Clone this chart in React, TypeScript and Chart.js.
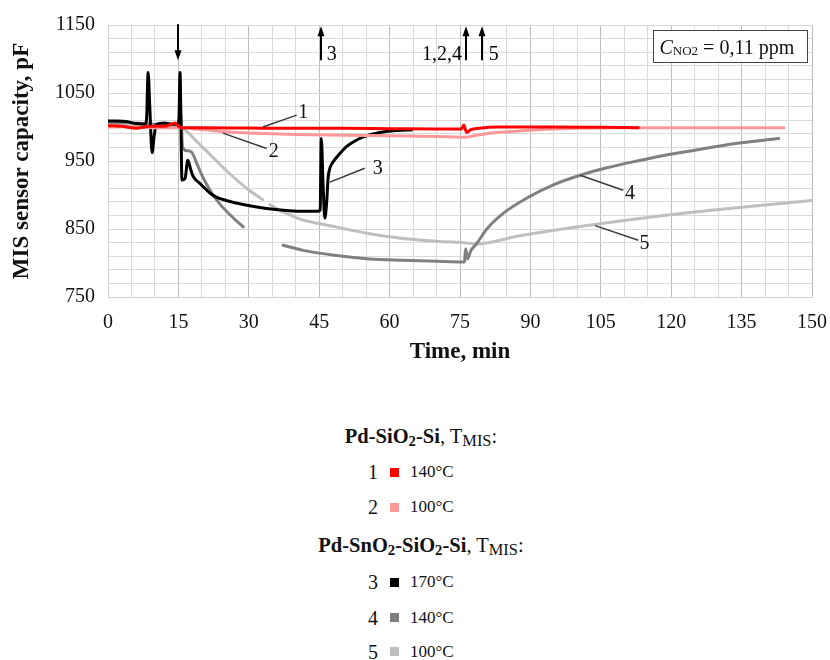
import React, { useEffect, useRef } from 'react';
import { Chart, registerables } from 'chart.js';
Chart.register(...registerables);

const FONT = '"Liberation Serif", "Times New Roman", serif';

// Series 1: Pd-SiO2-Si, 140°C
const s1T = [0, 3, 6, 9, 12, 14.3, 15.2, 16, 20, 30, 40, 50, 60, 70, 75.3, 75.8, 76.4, 77.3, 79, 83, 95, 105, 113];
const s1C = [1002, 1001, 998, 1001, 1001, 1006, 1000, 999, 999, 998.5, 998, 998, 997.5, 997, 997, 1003, 992, 996, 998, 1000, 1000, 999.5, 999];
// Series 2: Pd-SiO2-Si, 100°C
const s2T = [0, 5, 10, 15, 16.5, 18, 22, 25, 30, 35, 40, 50, 60, 70, 76, 78, 81, 85, 90, 95, 100, 110, 120, 130, 144];
const s2C = [1000, 1000, 999, 999, 999, 997.5, 995, 993, 991, 990, 989, 988, 987, 986, 985, 987, 990.5, 993, 995.4, 997, 998, 998.8, 999, 999, 999];
// Series 3: Pd-SnO2-SiO2-Si, 170°C
const s3T = [0, 2, 4, 6, 7.8, 8.2, 8.55, 8.9, 9.4, 9.8, 10.3, 12, 14, 14.8, 15.1, 15.35, 15.5, 15.75, 16.4, 17.0, 17.6, 18.1, 19.6, 21.7, 23.1, 25.2, 28.8, 33.8, 39.4, 44.8, 45.2, 45.45, 45.8, 46.2, 46.6, 46.9, 47.3, 48, 49.4, 50.8, 52.5, 54.4, 57.9, 61.5, 64.7];
const s3C = [1009, 1009, 1008, 1005, 1004, 1010, 1080, 1030, 962, 985, 1004, 1006, 1004, 1005, 1010, 1080, 1030, 922, 924, 951, 938, 928, 917, 903, 897, 892, 886, 880, 876.5, 876, 878, 983, 920, 866, 890, 925, 940, 949, 961, 971, 979, 985.5, 992, 995, 995.5];
// Series 4: Pd-SnO2-SiO2-Si, 140°C
const s4T = [0, 4, 8, 10, 12, 15, 15.35, 15.55, 15.9, 16.8, 17.8, 19, 20.3, 22, 23.8, 26, 28.8, 33, 37.3, 41.6, 48.7, 55.8, 62.9, 70, 75.7, 75.95, 76.2, 76.6, 77.3, 78.5, 80.7, 84.2, 89.9, 94.9, 100.6, 106.3, 112.7, 119.8, 126, 133.3, 142.9];
const s4C = [1007, 1006, 1005, 1004, 1003, 1002, 1020, 1015, 970, 965, 963, 945, 925, 904, 887, 871, 853, null, 826, 818.6, 811, 806, 804, 802.4, 801.4, 802, 821, 806, 818, 828, 850, 873, 898, 915, 929, 940, 950, 960, 967, 975.5, 983];
// Series 5: Pd-SnO2-SiO2-Si, 100°C
const s5T = [0, 5, 10, 15, 15.6, 17, 19, 21.7, 25.2, 29.5, 33, 33.7, 34.5, 37, 39.4, 41.6, 45, 48.7, 52, 55.8, 62.9, 70, 77.1, 78.5, 87.8, 102, 119.8, 135, 150];
const s5C = [1002, 1001, 1000, 999, 999, 992, 978, 960, 936, 910, 893, null, 886, 876, 869, 863, 858, 853, 848, 843, 836, 832, 829, 828, 840, 855, 871, 882, 892];

const seriesT = [s1T, s2T, s3T, s4T, s5T];
const seriesC = [s1C, s2C, s3C, s4C, s5C];
const seriesNum = ['1', '2', '3', '4', '5'];
const seriesTemp = ['140°C', '100°C', '170°C', '140°C', '100°C'];
const seriesColor = ['#ff0000', '#ff9999', '#000000', '#808080', '#bfbfbf'];

// axis
const xMin = 0, xMax = 150, xStep = 5, xLabelEvery = 15;
const yMin = 750, yMax = 1150, yStep = 20, yLabelEvery = 100;

// annotations (data coordinates)
const arrowT = [15, 45.4, 76.2, 79.7];
const arrowUp = [false, true, true, true];
const arrowLabel = ['', '3', '1,2,4', '5'];
const arrowLabelT = [0, 46.6, 75.4, 81.1];
const arrowLabelAlign = ['left', 'left', 'right', 'left'];
const leaderFrom = [[33, 1000], [24.5, 991], [47.3, 919], [100.6, 929], [103.8, 855]];
const leaderTo = [[40.2, 1017.5], [33.8, 968.4], [54.7, 939.4], [109.8, 907], [113, 833.4]];
const leaderLabel = [[41.6, 1021], [35.3, 963], [57.5, 939], [111.2, 902], [114.3, 828.5]];
const boxT = [116.1, 148.9];
const boxC = [1142.6, 1095.5];

const annotPlugin = {
  id: 'annot',
  afterDraw(chart: any) {
    const { ctx } = chart;
    const x = chart.scales.x, y = chart.scales.y;
    ctx.save();
    ctx.strokeStyle = '#3a3a3a';
    ctx.lineWidth = 1.5;
    for (let i = 0; i < leaderFrom.length; i++) {
      ctx.beginPath();
      ctx.moveTo(x.getPixelForValue(leaderFrom[i][0]), y.getPixelForValue(leaderFrom[i][1]));
      ctx.lineTo(x.getPixelForValue(leaderTo[i][0]), y.getPixelForValue(leaderTo[i][1]));
      ctx.stroke();
    }
    ctx.fillStyle = '#111';
    ctx.font = `20px ${FONT}`;
    ctx.textAlign = 'center';
    ctx.textBaseline = 'middle';
    for (let i = 0; i < leaderLabel.length; i++) {
      ctx.fillText(seriesNum[i], x.getPixelForValue(leaderLabel[i][0]), y.getPixelForValue(leaderLabel[i][1]));
    }
    ctx.strokeStyle = '#000';
    ctx.fillStyle = '#000';
    ctx.lineWidth = 2;
    for (let i = 0; i < arrowT.length; i++) {
      const px = Math.round(x.getPixelForValue(arrowT[i]));
      const top = y.getPixelForValue(1148);
      const bot = y.getPixelForValue(1098);
      ctx.beginPath();
      if (arrowUp[i]) {
        ctx.moveTo(px, bot); ctx.lineTo(px, top + 8);
      } else {
        ctx.moveTo(px, top - 2); ctx.lineTo(px, bot - 8);
      }
      ctx.stroke();
      ctx.beginPath();
      if (arrowUp[i]) {
        ctx.moveTo(px, top); ctx.lineTo(px - 3.5, top + 10); ctx.lineTo(px + 3.5, top + 10);
      } else {
        ctx.moveTo(px, bot); ctx.lineTo(px - 3.5, bot - 10); ctx.lineTo(px + 3.5, bot - 10);
      }
      ctx.closePath();
      ctx.fill();
      if (arrowLabel[i]) {
        ctx.font = `20px ${FONT}`;
        ctx.textAlign = arrowLabelAlign[i] as CanvasTextAlign;
        ctx.textBaseline = 'alphabetic';
        ctx.fillText(arrowLabel[i], x.getPixelForValue(arrowLabelT[i]), y.getPixelForValue(1099));
      }
    }
    const bx0 = Math.round(x.getPixelForValue(boxT[0])) + 0.5;
    const bx1 = Math.round(x.getPixelForValue(boxT[1])) + 0.5;
    const by0 = Math.round(y.getPixelForValue(boxC[0])) + 0.5;
    const by1 = Math.round(y.getPixelForValue(boxC[1])) + 0.5;
    ctx.fillStyle = '#fff';
    ctx.fillRect(bx0, by0, bx1 - bx0, by1 - by0);
    ctx.strokeStyle = '#444';
    ctx.lineWidth = 1;
    ctx.strokeRect(bx0, by0, bx1 - bx0, by1 - by0);
    ctx.fillStyle = '#111';
    ctx.textAlign = 'left';
    ctx.textBaseline = 'alphabetic';
    let tx = bx0 + 6;
    const base = by0 + 23;
    ctx.font = `italic 20px ${FONT}`;
    ctx.fillText('C', tx, base);
    tx += ctx.measureText('C').width;
    ctx.font = `13px ${FONT}`;
    ctx.fillText('NO2', tx, base + 1);
    tx += ctx.measureText('NO2').width;
    ctx.font = `20px ${FONT}`;
    ctx.fillText(' = 0,11 ppm', tx, base);
    ctx.restore();
  },
};

export default function App() {
  const ref = useRef<HTMLCanvasElement | null>(null);
  useEffect(() => {
    if (!ref.current) return;
    const datasets = seriesT.map((ts, i) => ({
      label: seriesNum[i],
      data: ts.map((t, j) => ({ x: t, y: seriesC[i][j] })),
      borderColor: seriesColor[i],
      backgroundColor: seriesColor[i],
      borderWidth: 3,
      pointRadius: 0,
      cubicInterpolationMode: 'monotone' as const,
      borderJoinStyle: 'round' as const,
      borderCapStyle: 'round' as const,
      spanGaps: false,
    }));
    const chart = new Chart(ref.current, {
      type: 'line',
      data: { datasets },
      plugins: [annotPlugin],
      options: {
        animation: false,
        responsive: false,
        maintainAspectRatio: false,
        parsing: false as any,
        layout: { padding: { top: 25, right: 18, left: 0, bottom: 0 } },
        plugins: { legend: { display: false }, tooltip: { enabled: false } },
        scales: {
          x: {
            type: 'linear',
            min: xMin,
            max: xMax,
            ticks: {
              stepSize: xStep,
              autoSkip: false,
              maxRotation: 0,
              padding: 14,
              color: '#111',
              font: { family: FONT, size: 20 },
              callback: (v: any) => (Number(v) % xLabelEvery === 0 ? String(v) : ''),
            },
            grid: {
              drawTicks: false,
              color: (c: any) => (c.tick && c.tick.value % xLabelEvery === 0 ? '#bdbdbd' : '#dadada'),
              lineWidth: 1,
            },
            border: { display: true, color: '#d0d0d0' },
            title: {
              display: true,
              text: 'Time, min',
              color: '#111',
              font: { family: FONT, size: 23, weight: 'bold' },
              padding: { top: 0, bottom: 4 },
            },
            afterFit: (s: any) => { s.height = 370 - 297; s.paddingLeft = 0; s.paddingRight = 0; },
          },
          y: {
            type: 'linear',
            min: yMin,
            max: yMax,
            ticks: {
              stepSize: yStep,
              autoSkip: false,
              padding: 13,
              color: '#111',
              font: { family: FONT, size: 20 },
              callback: (v: any) => ((Number(v) - yMin) % yLabelEvery === 0 ? String(v) : ''),
            },
            grid: { drawTicks: false, color: '#dadada', lineWidth: 1 },
            border: { display: true, color: '#d0d0d0' },
            title: {
              display: true,
              text: 'MIS sensor capacity, pF',
              color: '#111',
              font: { family: FONT, size: 23, weight: 'bold' },
              padding: { top: 8, bottom: 0 },
            },
            afterFit: (s: any) => { s.width = 108; s.paddingTop = 0; s.paddingBottom = 0; },
          },
        },
      } as any,
    });
    return () => chart.destroy();
  }, []);

  const rowCy = [472, 507, 582, 617.5, 651.5];
  const subStyle: React.CSSProperties = { fontSize: '0.72em', verticalAlign: '-0.22em', lineHeight: 0 };
  const subStyle2: React.CSSProperties = { fontSize: '0.8em', verticalAlign: '-0.18em', lineHeight: 0 };
  const header = (cy: number, bold: React.ReactNode) => (
    <div style={{ position: 'absolute', left: 0, width: 842, top: cy - 12, height: 24, lineHeight: '24px', textAlign: 'center', fontSize: 20.5, color: '#111', whiteSpace: 'nowrap' }}>
      <b>{bold}</b>, T<span style={subStyle2}>MIS</span>:
    </div>
  );
  return (
    <div style={{ position: 'absolute', left: 0, top: 0, width: 830, height: 660, background: '#fff', fontFamily: FONT, overflow: 'hidden' }}>
      <canvas ref={ref} width={830} height={370} style={{ position: 'absolute', left: 0, top: 0, width: 830, height: 370 }} />
      {header(436, <>Pd-SiO<span style={subStyle}>2</span>-Si</>)}
      {header(545, <>Pd-SnO<span style={subStyle}>2</span>-SiO<span style={subStyle}>2</span>-Si</>)}
      {seriesNum.map((n, i) => (
        <React.Fragment key={n}>
          <div style={{ position: 'absolute', left: 300, width: 78, textAlign: 'right', top: rowCy[i] - 12, height: 24, lineHeight: '24px', fontSize: 20, color: '#111' }}>{n}</div>
          <div style={{ position: 'absolute', left: 390, top: rowCy[i] - 4.5, width: 9, height: 9, background: seriesColor[i] }} />
          <div style={{ position: 'absolute', left: 410, top: rowCy[i] - 12, height: 24, lineHeight: '24px', fontSize: 17, color: '#111', whiteSpace: 'nowrap' }}>{seriesTemp[i]}</div>
        </React.Fragment>
      ))}
    </div>
  );
}
